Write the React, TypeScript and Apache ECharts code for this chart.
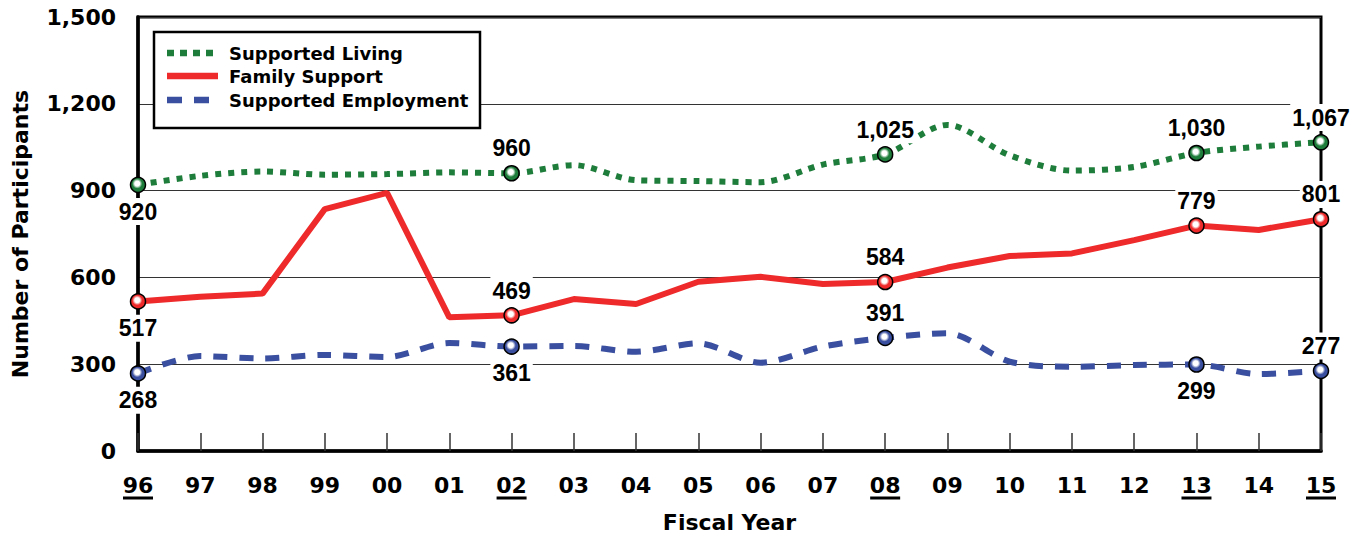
import React, { useEffect, useRef } from 'react';
import * as echarts from 'echarts';

const years = ['96', '97', '98', '99', '00', '01', '02', '03', '04', '05', '06', '07', '08', '09', '10', '11', '12', '13', '14', '15'];
const supportedLiving = [920, 951, 966, 955, 957, 963, 960, 988, 936, 933, 929, 990, 1025, 1127, 1022, 969, 982, 1030, 1052, 1067];
const familySupport = [517, 533, 544, 836, 892, 462, 469, 525, 508, 585, 602, 577, 584, 634, 674, 683, 729, 779, 764, 801];
const supportedEmployment = [268, 328, 320, 332, 325, 373, 361, 363, 343, 372, 305, 361, 391, 407, 309, 291, 297, 299, 266, 277];
const yMin = 0;
const yMax = 1500;
const yStep = 300;
const underlinedYears = ['96', '02', '08', '13', '15'];

const livingLabelPos: Record<number, string> = { 0: 'bottom', 6: 'top', 12: 'top', 17: 'top', 19: 'top' };
const familyLabelPos: Record<number, string> = { 0: 'bottom', 6: 'top', 12: 'top', 17: 'top', 19: 'top' };
const employmentLabelPos: Record<number, string> = { 0: 'bottom', 6: 'bottom', 12: 'top', 17: 'bottom', 19: 'top' };

const seriesNames = ['Supported Living', 'Family Support', 'Supported Employment'];
const GREEN = '#1f7d3b';
const RED = '#ee2a2a';
const BLUE = '#3a4f9f';

const AXIS_FONT = '"DejaVu Sans", sans-serif';
const LABEL_FONT = '"Liberation Sans", Arial, sans-serif';

function fmt(v: number) {
  return v.toLocaleString('en-US');
}

function ball(color: string) {
  return new echarts.graphic.RadialGradient(0.45, 0.42, 0.55, [
    { offset: 0, color: '#ffffff' },
    { offset: 0.3, color: '#ffffff' },
    { offset: 0.6, color: color },
    { offset: 1, color: color },
  ]);
}

function buildData(values: number[], labels: Record<number, string>, color: string) {
  return values.map((v, i) => {
    const pos = labels[i];
    if (!pos) return v;
    return {
      value: v,
      symbol: 'circle',
      symbolSize: 15,
      itemStyle: { color: ball(color), borderColor: '#000', borderWidth: 1.5 },
      label: {
        show: true,
        position: pos,
        distance: pos === 'top' ? 3 : 5,
        formatter: () => fmt(v),
        fontFamily: LABEL_FONT,
        fontWeight: 'bold',
        fontSize: 23,
        color: '#000',
        backgroundColor: '#fff',
        padding: [2, 2],
      },
    };
  });
}

export default function App() {
  const ref = useRef<HTMLDivElement>(null);
  useEffect(() => {
    if (!ref.current) return;
    const chart = echarts.init(ref.current, undefined, { renderer: 'svg' });
    const option: any = {
      animation: false,
      backgroundColor: '#fff',
      grid: {
        left: 138,
        top: 17,
        right: 43,
        bottom: 86,
        show: true,
        borderColor: '#000',
        borderWidth: 3,
        backgroundColor: 'transparent',
        outerBoundsMode: 'none',
        containLabel: false,
      },
      xAxis: {
        type: 'category',
        data: years,
        boundaryGap: false,
        name: 'Fiscal Year',
        nameLocation: 'middle',
        nameGap: 60,
        nameTextStyle: { fontFamily: AXIS_FONT, fontWeight: 'bold', fontSize: 22, color: '#000' },
        axisLine: { show: true, lineStyle: { color: '#000', width: 3.5 } },
        axisTick: { show: true, inside: true, length: 18, lineStyle: { color: '#333', width: 1.5 } },
        axisLabel: {
          margin: 23,
          fontFamily: AXIS_FONT,
          fontWeight: 'bold',
          fontSize: 22,
          color: '#000',
          interval: 0,
        },
        splitLine: { show: false },
      },
      yAxis: {
        type: 'value',
        min: yMin,
        max: yMax,
        interval: yStep,
        name: 'Number of Participants',
        nameLocation: 'middle',
        nameGap: 107,
        nameTextStyle: { fontFamily: AXIS_FONT, fontWeight: 'bold', fontSize: 22, color: '#000' },
        axisLine: { show: true, lineStyle: { color: '#000', width: 3.5 } },
        axisTick: { show: false },
        axisLabel: {
          margin: 22,
          fontFamily: AXIS_FONT,
          fontWeight: 'bold',
          fontSize: 22,
          color: '#000',
          formatter: (v: number) => fmt(v),
        },
        splitLine: { show: true, lineStyle: { color: '#333', width: 1 } },
      },
      series: [
        {
          name: seriesNames[0],
          type: 'line',
          data: buildData(supportedLiving, livingLabelPos, GREEN),
          symbol: 'none',
          showSymbol: true,
          smooth: 0.3,
          color: GREEN,
          lineStyle: { color: GREEN, width: 6, type: [6, 7] },
          z: 3,
        },
        {
          name: seriesNames[1],
          type: 'line',
          data: buildData(familySupport, familyLabelPos, RED),
          symbol: 'none',
          showSymbol: true,
          smooth: false,
          color: RED,
          lineStyle: { color: RED, width: 6 },
          z: 3,
        },
        {
          name: seriesNames[2],
          type: 'line',
          data: buildData(supportedEmployment, employmentLabelPos, BLUE),
          symbol: 'none',
          showSymbol: true,
          smooth: 0.3,
          color: BLUE,
          lineStyle: { color: BLUE, width: 6, type: [14, 12] },
          z: 3,
        },
      ],
    };
    chart.setOption(option);

    const legendX = 154;
    const legendY = 32;
    const rows = [53, 76, 100];
    const legendColors = [GREEN, RED, BLUE];
    const legendDash: any[] = [[7, 6], null, [15, 12]];
    const graphics: any[] = [
      {
        type: 'rect',
        shape: { x: legendX, y: legendY, width: 326, height: 96 },
        style: { fill: '#fff', stroke: '#000', lineWidth: 2.5 },
        z: 10,
      },
    ];
    seriesNames.forEach((n, i) => {
      graphics.push({
        type: 'line',
        shape: { x1: 167, y1: rows[i], x2: 218, y2: rows[i] },
        style: { stroke: legendColors[i], lineWidth: 6.5, lineDash: legendDash[i] || undefined },
        z: 11,
      });
      graphics.push({
        type: 'text',
        x: 229,
        y: rows[i],
        style: {
          text: n,
          fill: '#000',
          font: `bold 18px ${AXIS_FONT}`,
          textVerticalAlign: 'middle',
          verticalAlign: 'middle',
        },
        z: 11,
      });
    });
    underlinedYears.forEach((yr) => {
      const px = chart.convertToPixel({ xAxisIndex: 0 }, yr) as number;
      graphics.push({
        type: 'rect',
        shape: { x: px - 15, y: 496.5, width: 30, height: 3 },
        style: { fill: '#000' },
        z: 11,
      });
    });
    chart.setOption({ graphic: graphics });

    return () => chart.dispose();
  }, []);
  return <div ref={ref} style={{ position: 'fixed', left: 0, top: 0, width: 1364, height: 537 }} />;
}
